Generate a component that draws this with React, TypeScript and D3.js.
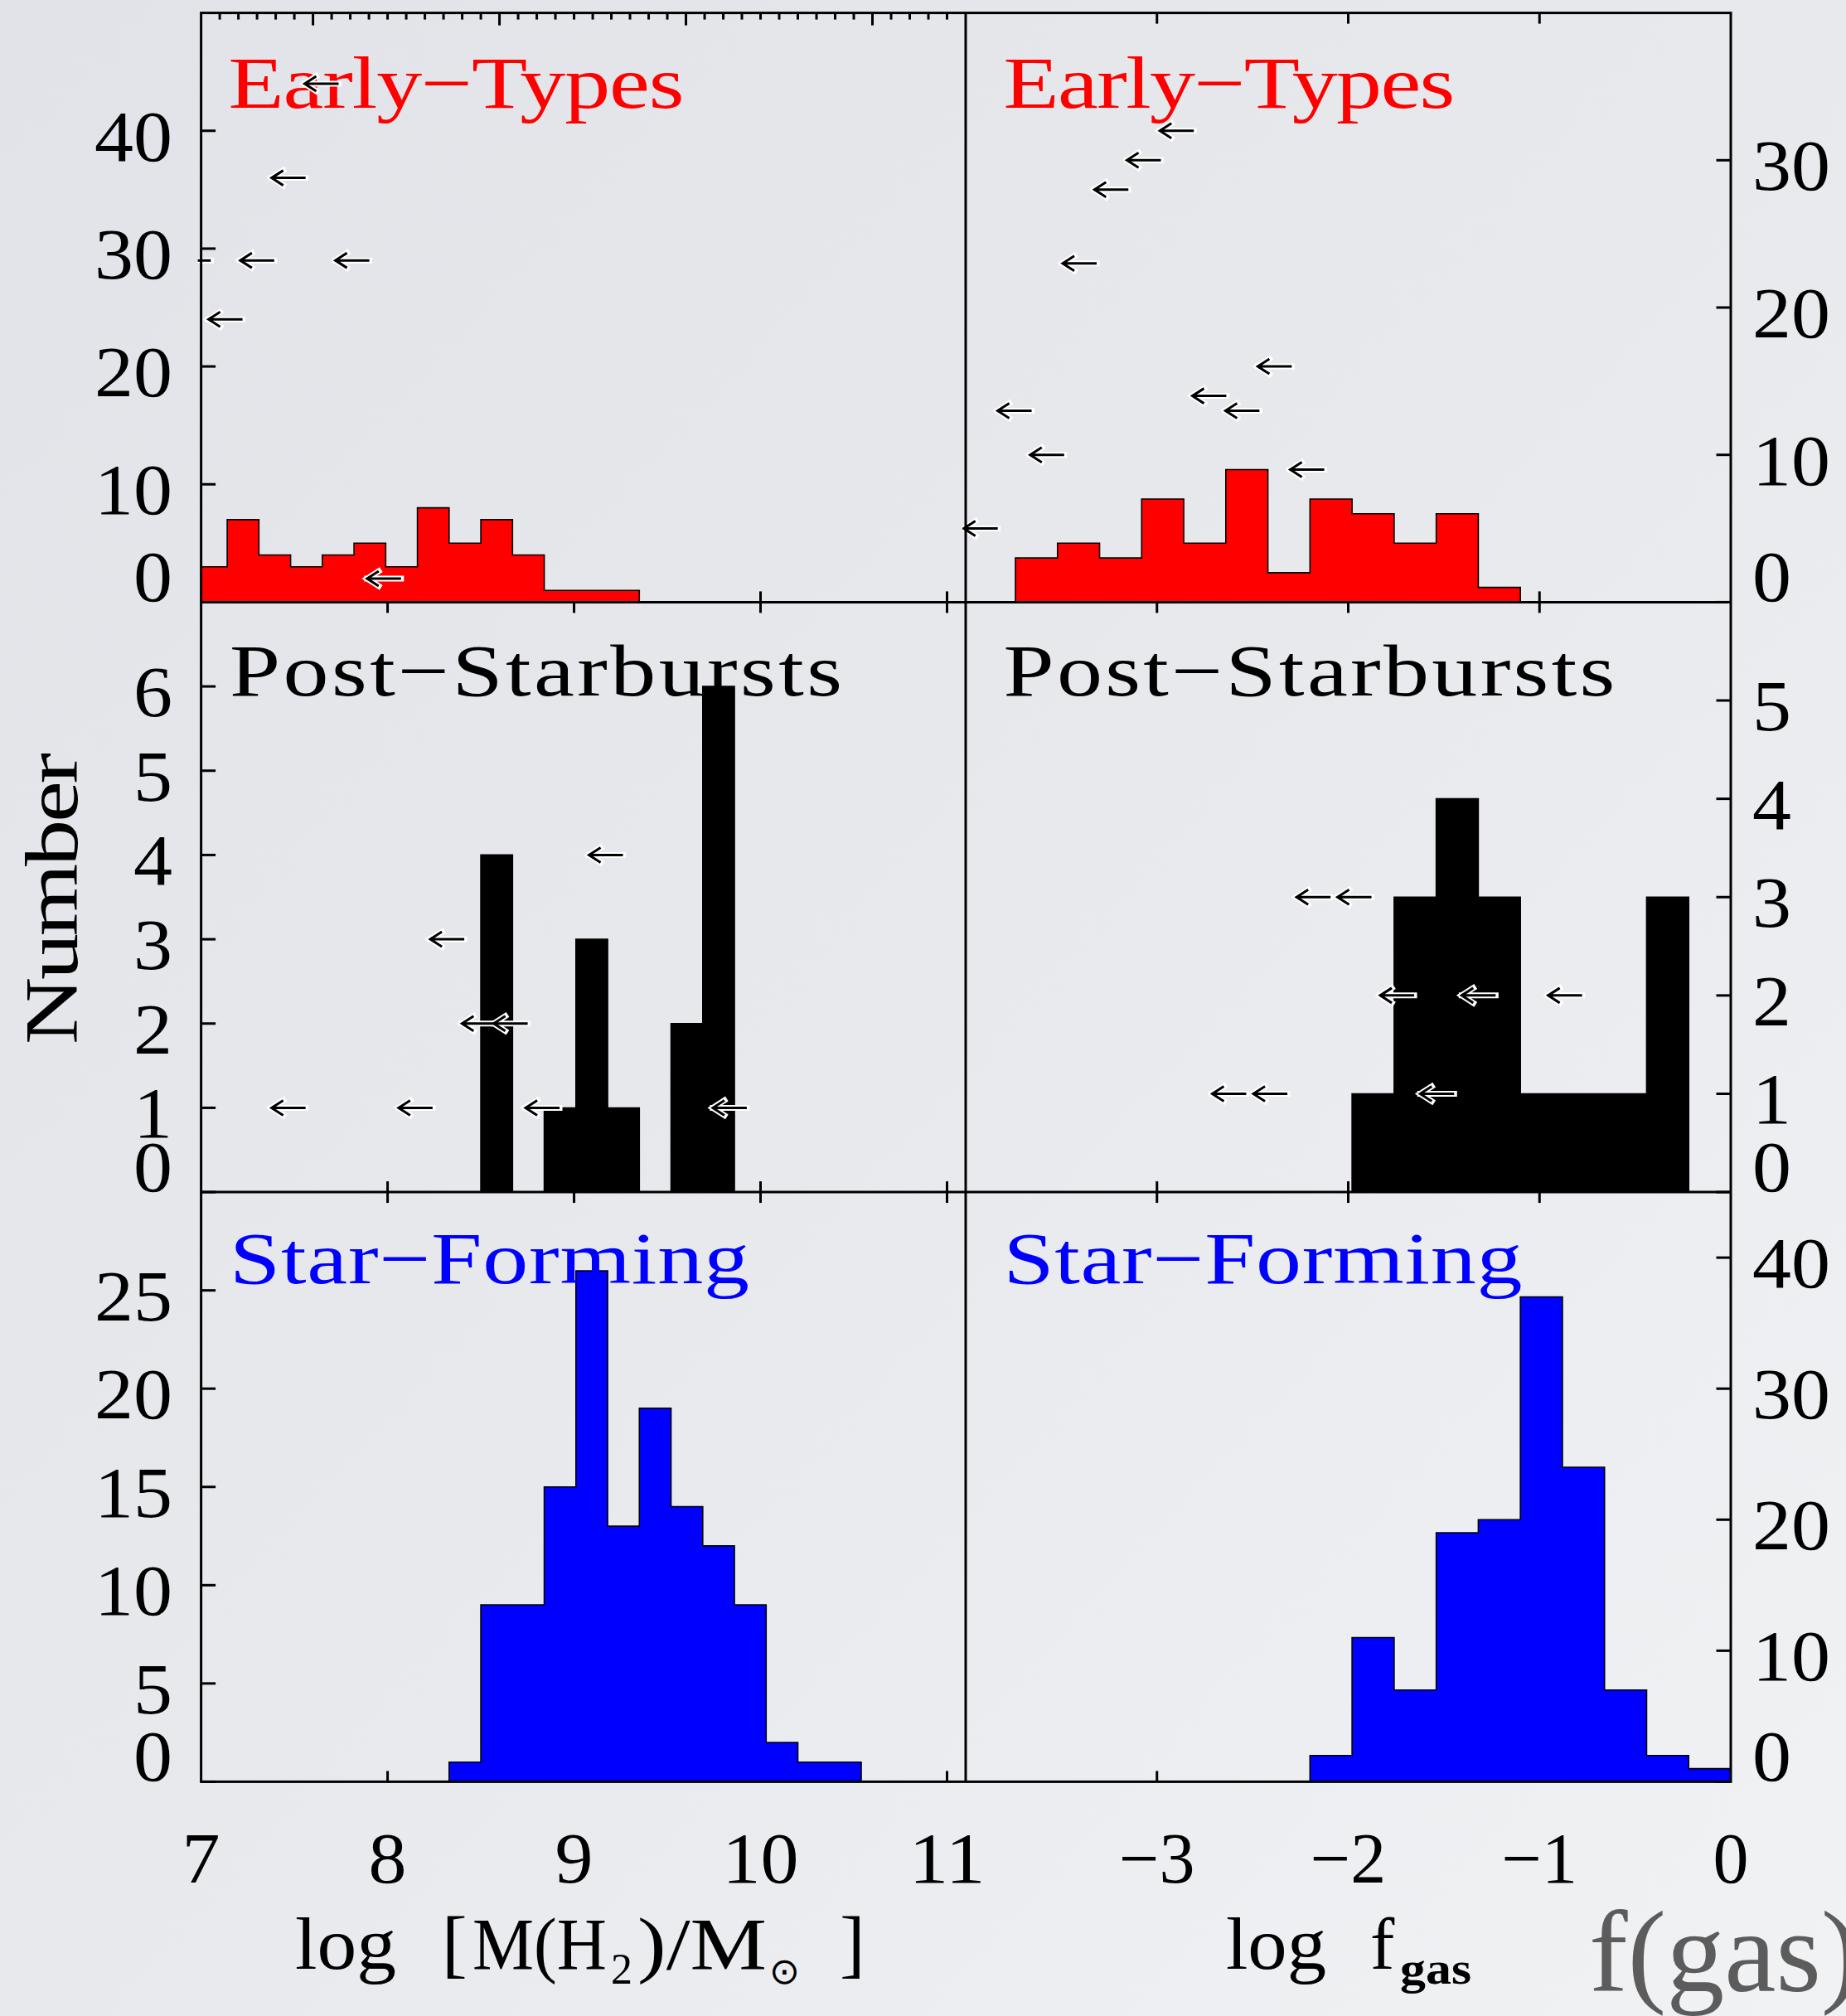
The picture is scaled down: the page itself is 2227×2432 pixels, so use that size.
import React from "react";
import * as d3 from "d3";

const W = 2227;
const H = 2432;

// ---------- data ----------
const MH2_BIN_START = 6.97;
const MH2_BIN_WIDTH = 0.17;
const FGAS_BIN_START = -3.74;
const FGAS_BIN_WIDTH = 0.22;

const mh2Early = [3, 7, 4, 3, 4, 5, 3, 8, 5, 7, 4, 1, 1, 1];
const mh2PostSB = [0, 0, 0, 0, 0, 0, 0, 0, 0, 4, 0, 1, 3, 1, 0, 2, 6];
const mh2StarForming = [0, 0, 0, 0, 0, 0, 0, 0, 1, 9, 9, 15, 26, 13, 19, 14, 12, 9, 2, 1, 1];

const fgasEarly = [3, 4, 3, 7, 4, 9, 2, 7, 6, 4, 6, 1];
const fgasPostSB = [0, 0, 0, 0, 0, 0, 0, 0, 1, 3, 4, 3, 1, 1, 1, 3, 0];
const fgasStarForming = [0, 0, 0, 0, 0, 0, 0, 2, 11, 7, 19, 20, 37, 24, 7, 2, 1];

// upper limits [x, count]
const mh2EarlyLimits = [[7.555, 44], [7.378, 36], [7.21, 29], [7.72, 29], [7.04, 24], [6.87, 29], [7.89, 2]];
const fgasEarlyLimits = [[-2.985, 32], [-3.157, 30], [-3.327, 28], [-3.493, 23], [-2.473, 16], [-2.815, 14], [-2.642, 13], [-3.833, 13], [-3.663, 10], [-2.303, 9], [-4.01, 5]];
const mh2PostSBLimits = [[9.08, 4], [8.229, 3], [8.399, 2], [8.569, 2], [7.378, 1], [8.059, 1], [8.74, 1], [9.744, 1]];
const fgasPostSBLimits = [[-2.27, 3], [-2.056, 3], [-1.833, 2], [-1.407, 2], [-0.955, 2], [-2.711, 1], [-2.496, 1], [-1.624, 1]];

const mh2TickValues = [7, 8, 9, 10, 11];
const mh2TickLabels = ["7", "8", "9", "10", "11"];
const fgasTickValues = [-3, -2, -1, 0];
const fgasTickLabels = ["\u22123", "\u22122", "\u22121", "0"];
const topMajorTicks = [7.6, 8.6, 9.6, 10.6];

const yTicksTL = [0, 10, 20, 30, 40];
const yTicksTR = [0, 10, 20, 30];
const yTicksML = [0, 1, 2, 3, 4, 5, 6];
const yTicksMR = [0, 1, 2, 3, 4, 5];
const yTicksBL = [0, 5, 10, 15, 20, 25];
const yTicksBR = [0, 10, 20, 30, 40];

// ---------- layout ----------
const XL = 242.6, XM = 1165, XR = 2088;
const ROWS = [15.6, 726.4, 1438.1, 2149.4];
const FONT = "'Liberation Serif', 'Times New Roman', serif";
const LABEL_SX = 1.25;

const xMH2 = d3.scaleLinear().domain([7, 11.1]).range([XL, XM]);
const xFgas = d3.scaleLinear().domain([-4, 0]).range([XM, XR]);

type Panel = {
  id: string; col: 0 | 1; row: number; ymax: number; counts: number[];
  color: string; label: string; labelX: number; labelY: number; labelLen: number;
  yTicks: number[]; limits: number[][];
};

const panels: Panel[] = [
  { id: "tl", col: 0, row: 0, ymax: 50, counts: mh2Early, color: "#ff0000", label: "Early\u2212Types", labelX: 275.5, labelY: 130, labelLen: 550, yTicks: yTicksTL, limits: mh2EarlyLimits },
  { id: "tr", col: 1, row: 0, ymax: 40, counts: fgasEarly, color: "#ff0000", label: "Early\u2212Types", labelX: 1210.4, labelY: 130, labelLen: 545, yTicks: yTicksTR, limits: fgasEarlyLimits },
  { id: "ml", col: 0, row: 1, ymax: 7, counts: mh2PostSB, color: "#000000", label: "Post\u2212Starbursts", labelX: 277, labelY: 839, labelLen: 739, yTicks: yTicksML, limits: mh2PostSBLimits },
  { id: "mr", col: 1, row: 1, ymax: 6, counts: fgasPostSB, color: "#000000", label: "Post\u2212Starbursts", labelX: 1210.4, labelY: 839, labelLen: 738, yTicks: yTicksMR, limits: fgasPostSBLimits },
  { id: "bl", col: 0, row: 2, ymax: 30, counts: mh2StarForming, color: "#0000ff", label: "Star\u2212Forming", labelX: 277, labelY: 1548, labelLen: 627, yTicks: yTicksBL, limits: [] },
  { id: "br", col: 1, row: 2, ymax: 45, counts: fgasStarForming, color: "#0000ff", label: "Star\u2212Forming", labelX: 1210.4, labelY: 1548, labelLen: 626, yTicks: yTicksBR, limits: [] },
];

function stepPath(counts: number[], start: number, width: number, xs: any, ys: any, close: boolean) {
  const y0 = ys(0);
  let d = `M${xs(start)},${y0}`;
  counts.forEach((c, i) => {
    const x0 = xs(start + i * width);
    const x1 = xs(start + (i + 1) * width);
    d += `L${x0},${ys(c)}L${x1},${ys(c)}`;
  });
  d += `L${xs(start + counts.length * width)},${y0}`;
  if (close) d += "Z";
  return d;
}

function arrowPath(x: number, y: number) {
  return `M${x + 41},${y}H${x}M${x + 14},${y - 9}L${x},${y}L${x + 14},${y + 9}`;
}

function PanelView({ p }: { p: Panel }) {
  const top = ROWS[p.row];
  const bottom = ROWS[p.row + 1];
  const xs = p.col === 0 ? xMH2 : xFgas;
  const ys = d3.scaleLinear().domain([0, p.ymax]).range([bottom, top]);
  const [x0, x1] = xs.range();
  const start = p.col === 0 ? MH2_BIN_START : FGAS_BIN_START;
  const width = p.col === 0 ? MH2_BIN_WIDTH : FGAS_BIN_WIDTH;
  const xTickVals = p.col === 0 ? [8, 9, 10, 11] : [-3, -2, -1];
  const tickLen = 13;
  const yTickLen = 17.5;
  const isTopLeft = p.id === "tl";
  const minorTop = d3.range(71, 111).map((v) => v / 10).filter((v) => !topMajorTicks.some((m) => Math.abs(m - v) < 1e-6));

  return (
    <g>
      <clipPath id={`clip-${p.id}`}>
        <rect x={x0} y={top} width={x1 - x0} height={bottom - top} />
      </clipPath>
      <clipPath id={`clipA-${p.id}`}>
        <rect x={x0 - 4} y={top} width={x1 - x0 + 4} height={bottom - top} />
      </clipPath>
      {xTickVals.map((v) => (
        <line key={`bt${v}`} x1={xs(v)} x2={xs(v)} y1={bottom} y2={bottom - tickLen} stroke="#000" strokeWidth={3} />
      ))}
      {isTopLeft ? (
        <g>
          {minorTop.map((v) => (
            <line key={`mt${v}`} x1={xs(v)} x2={xs(v)} y1={top} y2={top + 8} stroke="#000" strokeWidth={3} />
          ))}
          {topMajorTicks.map((v) => (
            <line key={`Mt${v}`} x1={xs(v)} x2={xs(v)} y1={top} y2={top + 15} stroke="#000" strokeWidth={3} />
          ))}
        </g>
      ) : (
        xTickVals.map((v) => (
          <line key={`tt${v}`} x1={xs(v)} x2={xs(v)} y1={top} y2={top + tickLen} stroke="#000" strokeWidth={3} />
        ))
      )}
      {p.yTicks.map((v) => {
        const y = ys(v);
        return p.col === 0 ? (
          <line key={`yt${v}`} x1={x0} x2={x0 + yTickLen} y1={y} y2={y} stroke="#000" strokeWidth={3} />
        ) : (
          <line key={`yt${v}`} x1={x1} x2={x1 - yTickLen} y1={y} y2={y} stroke="#000" strokeWidth={3} />
        );
      })}
      <g clipPath={`url(#clip-${p.id})`}>
        <path d={stepPath(p.counts, start, width, xs, ys, true)} fill={p.color} stroke="none" />
        <path d={stepPath(p.counts, start, width, xs, ys, false)} fill="none" stroke="#000" strokeWidth={1.6} />
      </g>
      {p.yTicks.map((v) => {
        const y = v === 0 ? bottom - 1 : ys(v) + 36;
        return (
          <text key={`yl${v}`} x={p.col === 0 ? 208 : 2114} y={y} textAnchor={p.col === 0 ? "end" : "start"}
            fontFamily={FONT} fontSize={86} fill="#000"
            textLength={String(v).length * 47} lengthAdjust="spacingAndGlyphs">{String(v)}</text>
        );
      })}
      <text transform={`translate(${p.labelX},${p.labelY}) scale(${LABEL_SX},1)`} x={0} y={0}
        fontFamily={FONT} fontSize={88} fill={p.color}
        textLength={p.labelLen / LABEL_SX} lengthAdjust="spacing">{p.label}</text>
      <g clipPath={`url(#clipA-${p.id})`}>
        {p.limits.map(([xv, yv], i) => (
          <path key={`ah${i}`} d={arrowPath(xs(xv), ys(yv))} fill="none" stroke="#fff" strokeWidth={7} strokeLinecap="square" />
        ))}
        {p.limits.map(([xv, yv], i) => (
          <path key={`a${i}`} d={arrowPath(xs(xv), ys(yv))} fill="none" stroke="#000" strokeWidth={3} />
        ))}
      </g>
    </g>
  );
}

export default function App() {
  return (
    <div style={{ position: "absolute", left: 0, top: 0, width: W, height: H, overflow: "hidden" }}>
      <style>{`html,body{margin:0;padding:0;overflow:hidden;}`}</style>
      <svg width={W} height={H} viewBox={`0 0 ${W} ${H}`} style={{ display: "block" }}>
        <defs>
          <linearGradient id="bg" x1="0" y1="0" x2="1" y2="1">
            <stop offset="0" stopColor="#e1e3e8" />
            <stop offset="0.5" stopColor="#e8e9ed" />
            <stop offset="1" stopColor="#f1f2f4" />
          </linearGradient>
        </defs>
        <rect x={0} y={0} width={W} height={H} fill="url(#bg)" />

        {panels.map((p) => (
          <PanelView key={p.id} p={p} />
        ))}

        <g stroke="#000" strokeWidth={3} fill="none">
          <rect x={XL} y={ROWS[0]} width={XR - XL} height={ROWS[3] - ROWS[0]} />
          <line x1={XM} x2={XM} y1={ROWS[0]} y2={ROWS[3]} />
          <line x1={XL} x2={XR} y1={ROWS[1]} y2={ROWS[1]} />
          <line x1={XL} x2={XR} y1={ROWS[2]} y2={ROWS[2]} />
        </g>

        {mh2TickValues.map((v, i) => (
          <text key={`xl${v}`} x={xMH2(v)} y={2271} textAnchor="middle" fontFamily={FONT} fontSize={86} fill="#000"
            textLength={mh2TickLabels[i].length * 46} lengthAdjust="spacingAndGlyphs">{mh2TickLabels[i]}</text>
        ))}
        {fgasTickValues.map((v, i) => (
          <text key={`xr${v}`} x={xFgas(v)} y={2271} textAnchor="middle" fontFamily={FONT} fontSize={86} fill="#000">{fgasTickLabels[i]}</text>
        ))}

        <text transform="translate(93,1084) rotate(-90) scale(1.25,1)" textAnchor="middle" fontFamily={FONT} fontSize={90}
          textLength={352 / 1.25} lengthAdjust="spacing" fill="#000">Number</text>

        <text fontFamily={FONT} fill="#000" fontSize={88}>
          <tspan x={356} y={2375} textLength={122} lengthAdjust="spacingAndGlyphs">log</tspan>
          <tspan x={533} y={2375} fontSize={92}>[</tspan>
          <tspan x={570} y={2375} textLength={162} lengthAdjust="spacingAndGlyphs">M(H</tspan>
          <tspan x={737} y={2393} fontSize={52}>2</tspan>
          <tspan x={769} y={2375} textLength={156} lengthAdjust="spacingAndGlyphs">)/M</tspan>
          <tspan x={928} y={2393} fontSize={44} fontFamily="'DejaVu Sans', sans-serif">{"\u2299"}</tspan>
          <tspan x={1013} y={2375} fontSize={92}>]</tspan>
        </text>

        <text fontFamily={FONT} fill="#000" fontSize={88}>
          <tspan x={1479} y={2375} textLength={121} lengthAdjust="spacingAndGlyphs">log</tspan>
          <tspan x={1653} y={2375}>f</tspan>
          <tspan x={1689} y={2393} fontSize={54} fontWeight="bold" textLength={86} lengthAdjust="spacingAndGlyphs">gas</tspan>
        </text>

        <text x={1917} y={2402} fontFamily={FONT} fontSize={140} fill="#5c5c5c">f(gas)</text>
      </svg>
    </div>
  );
}
